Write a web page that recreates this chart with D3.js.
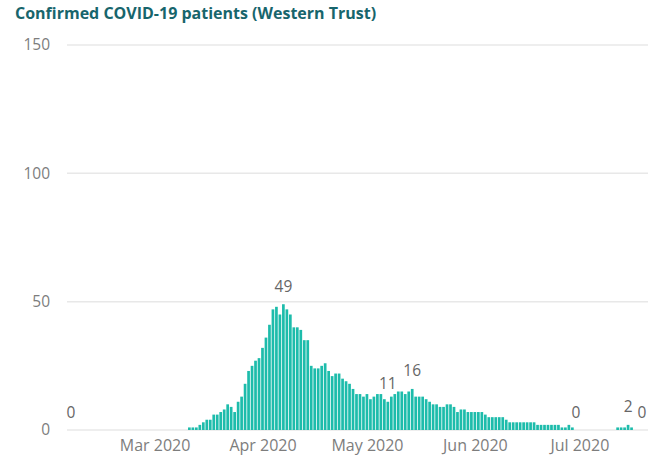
<!DOCTYPE html>
<html>
<head>
<meta charset="utf-8">
<script src="https://cdn.jsdelivr.net/npm/d3@7/dist/d3.min.js"></script>
<style>
  html, body { margin: 0; padding: 0; background: #fff; }
  svg { display: block; }
</style>
</head>
<body>
<svg id="chart" width="666" height="462"></svg>
<script>
// ---- data ----
const title = "Confirmed COVID-19 patients (Western Trust)";
const startDate = "2020-02-06"; // first daily category
const values = [
  0,0,0,0,0,0,0,0,0,0, 0,0,0,0,0,0,0,0,0,0,
  0,0,0,0,0,0,0,0,0,0, 0,0,0,0,
  1,1,1,2,3,4,4,6,6,7,8,10,9,7,11,13,18,23,25,27,
  28,32,36,41,47,48,45,49,47,45,40,40,39,35,35,25,24,24,25,26,
  23,21,22,22,20,19,18,16,14,14,13,14,12,13,14,14,12,11,13,14,
  15,15,14,15,16,13,13,13,12,11,10,10,9,9,10,10,9,7,8,8,
  7,7,7,7,7,6,5,5,5,5,5,4,3,3,3,3,3,3,3,3,
  2,2,2,2,2,2,2,1,1,2,1,0,0,0,0,0,0,0,0,0,
  0,0,0,1,1,1,2,1,0,0,0
];
const labelIndices = [0, 61, 91, 98, 145, 160, 164];
const yTicks = [0, 50, 100, 150];
const monthTicks = ["2020-03-01", "2020-04-01", "2020-05-01", "2020-06-01", "2020-07-01"];

// ---- build ----
const parse = d3.timeParse("%Y-%m-%d");
const d0 = parse(startDate);
const data = values.map((v, i) => ({ date: d3.timeDay.offset(d0, i), value: v, i }));

const svg = d3.select("#chart");
const font = "'Open Sans', 'Segoe UI', sans-serif";

const x = d3.scaleTime()
  .domain([data[0].date, data[data.length - 1].date])
  .range([71, 642]);
const y = d3.scaleLinear().domain([0, 150]).range([430, 45]);

const gridLeft = 67, gridRight = 648;

// title
svg.append("text")
  .attr("x", 15).attr("y", 19)
  .attr("font-family", font)
  .attr("font-weight", 700)
  .attr("font-size", 16)
  .attr("fill", "#17656c")
  .text(title);

// gridlines
svg.append("g").selectAll("line").data(yTicks).join("line")
  .attr("x1", gridLeft).attr("x2", gridRight)
  .attr("y1", d => y(d)).attr("y2", d => y(d))
  .attr("stroke", "#e8e8e8").attr("stroke-width", 1.5);

// y axis labels
const yAxis = d3.axisLeft(y).tickValues(yTicks).tickSize(0).tickPadding(0);
const gy = svg.append("g").attr("transform", "translate(50,0)").call(yAxis);
gy.select(".domain").remove();
gy.selectAll("text")
  .attr("font-family", font).attr("font-size", 15.5)
  .attr("fill", "#7d7d7d");

// x axis labels
const xAxis = d3.axisBottom(x)
  .tickValues(monthTicks.map(parse))
  .tickFormat(d3.timeFormat("%b %Y"))
  .tickSize(0).tickPadding(0);
const gx = svg.append("g").attr("transform", "translate(0,440)").call(xAxis);
gx.select(".domain").remove();
gx.selectAll("text")
  .attr("font-family", font).attr("font-size", 16)
  .attr("fill", "#7d7d7d");

// bars
const barW = 2.7;
svg.append("g").selectAll("rect").data(data.filter(d => d.value > 0)).join("rect")
  .attr("x", d => x(d.date) - barW / 2)
  .attr("width", barW)
  .attr("y", d => y(d.value))
  .attr("height", d => y(0) - y(d.value))
  .attr("fill", "#1dbcab");

// data labels
svg.append("g").selectAll("text").data(labelIndices.map(i => data[i])).join("text")
  .attr("x", d => x(d.date))
  .attr("y", d => y(d.value) - 12.5)
  .attr("text-anchor", "middle")
  .attr("font-family", font).attr("font-size", 15.5)
  .attr("fill", "#666")
  .text(d => d.value);
</script>
</body>
</html>
